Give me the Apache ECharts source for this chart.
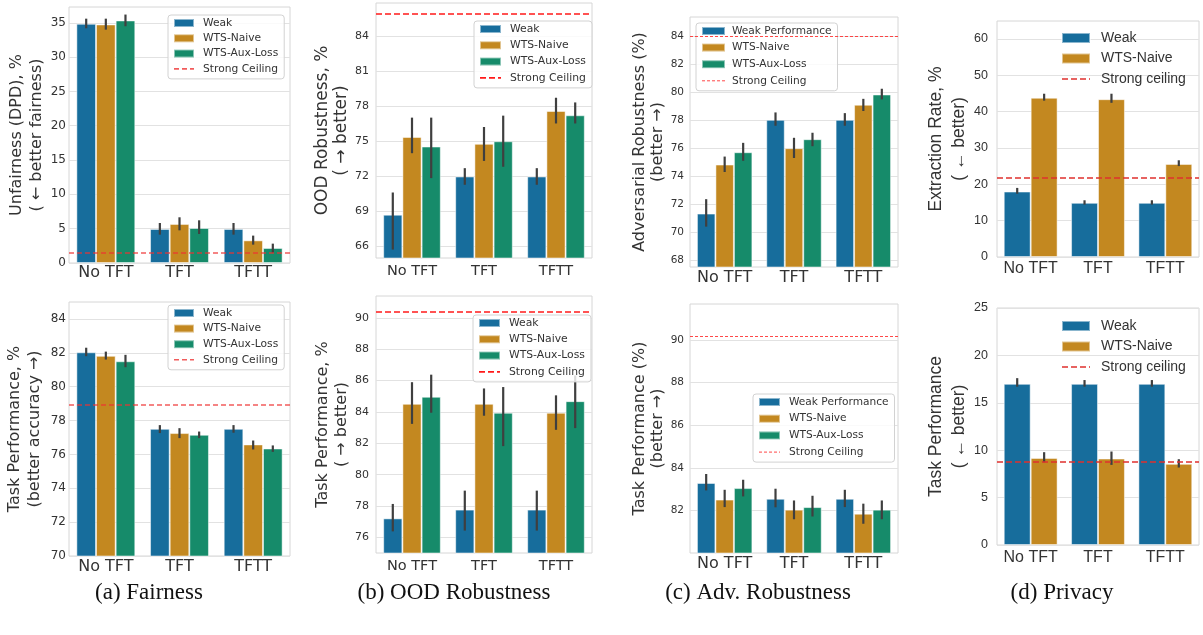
<!DOCTYPE html>
<html><head><meta charset="utf-8">
<script src="https://cdn.jsdelivr.net/npm/echarts@6/dist/echarts.min.js"></script>
<style>html,body{margin:0;padding:0;background:#fff}#c{width:1203px;height:635px}</style>
</head><body><div id="c"></div>
<script>
const categories = ['No TFT', 'TFT', 'TFTT'];

// (a) Fairness - top: Unfairness (DPD)
const aTopTicks = [0, 5, 10, 15, 20, 25, 30, 35];
const aTopWeak = [34.86, 4.96, 4.96];
const aTopWeakLo = [34.2, 4.13, 4.13];
const aTopWeakHi = [35.6, 5.83, 5.83];
const aTopNaive = [34.76, 5.69, 3.3];
const aTopNaiveLo = [34.0, 4.76, 2.67];
const aTopNaiveHi = [35.6, 6.66, 3.99];
const aTopAux = [35.34, 5.1, 2.19];
const aTopAuxLo = [34.5, 4.23, 1.46];
const aTopAuxHi = [36.2, 6.22, 2.82];
const aTopCeiling = 1.5;

// (a) Fairness - bottom: Task performance
const aBotTicks = [70, 72, 74, 76, 78, 80, 82, 84];
const aBotWeak = [82.03, 77.51, 77.51];
const aBotWeakLo = [81.8, 77.26, 77.28];
const aBotWeakHi = [82.3, 77.73, 77.73];
const aBotNaive = [81.82, 77.26, 76.59];
const aBotNaiveLo = [81.6, 76.96, 76.29];
const aBotNaiveHi = [82.07, 77.55, 76.82];
const aBotAux = [81.5, 77.16, 76.35];
const aBotAuxLo = [81.15, 76.96, 76.15];
const aBotAuxHi = [81.88, 77.35, 76.53];
const aBotCeiling = 78.95;

// (b) OOD Robustness - top
const bTopTicks = [66, 69, 72, 75, 78, 81, 84];
const bTopWeak = [68.7, 71.97, 71.97];
const bTopWeakLo = [65.72, 71.26, 71.26];
const bTopWeakHi = [70.6, 72.68, 72.68];
const bTopNaive = [75.35, 74.76, 77.57];
const bTopNaiveLo = [73.96, 73.3, 76.5];
const bTopNaiveHi = [77.0, 76.2, 78.7];
const bTopAux = [74.53, 74.98, 77.2];
const bTopAuxLo = [71.83, 72.8, 76.5];
const bTopAuxHi = [77.0, 77.17, 78.3];
const bTopCeiling = 85.85;

// (b) OOD Robustness - bottom: Task performance
const bBotTicks = [76, 78, 80, 82, 84, 86, 88, 90];
const bBotWeak = [77.21, 77.77, 77.77];
const bBotWeakLo = [76.38, 76.43, 76.43];
const bBotWeakHi = [78.13, 78.98, 78.98];
const bBotNaive = [84.52, 84.52, 83.95];
const bBotNaiveLo = [83.24, 83.76, 82.86];
const bBotNaiveHi = [85.9, 85.5, 85.06];
const bBotAux = [84.97, 83.95, 84.69];
const bBotAuxLo = [83.95, 81.82, 82.97];
const bBotAuxHi = [86.38, 85.59, 86.33];
const bBotCeiling = 90.38;

// (c) Adversarial Robustness - top
const cTopTicks = [68, 70, 72, 74, 76, 78, 80, 82, 84];
const cTopWeak = [71.33, 78.02, 78.02];
const cTopWeakLo = [70.4, 77.6, 77.6];
const cTopWeakHi = [72.36, 78.55, 78.5];
const cTopNaive = [74.83, 76.0, 79.1];
const cTopNaiveLo = [74.3, 75.3, 78.65];
const cTopNaiveHi = [75.4, 76.74, 79.52];
const cTopAux = [75.71, 76.64, 79.83];
const cTopAuxLo = [75.1, 76.14, 79.48];
const cTopAuxHi = [76.38, 77.1, 80.24];
const cTopCeiling = 84.0;

// (c) Adversarial Robustness - bottom: Task performance
const cBotTicks = [82, 84, 86, 88, 90];
const cBotWeak = [83.3, 82.56, 82.56];
const cBotWeakLo = [82.95, 82.16, 82.17];
const cBotWeakHi = [83.72, 83.03, 82.98];
const cBotNaive = [82.52, 82.05, 81.86];
const cBotNaiveLo = [82.17, 81.6, 81.39];
const cBotNaiveHi = [82.98, 82.48, 82.33];
const cBotAux = [83.06, 82.17, 82.05];
const cBotAuxLo = [82.67, 81.73, 81.6];
const cBotAuxHi = [83.45, 82.7, 82.48];
const cBotCeiling = 90.16;

// (d) Privacy - top: Extraction rate
const dTopTicks = [0, 10, 20, 30, 40, 50, 60];
const dTopWeak = [18.0, 14.9, 14.9];
const dTopWeakLo = [17.4, 14.4, 14.4];
const dTopWeakHi = [19.0, 15.6, 15.6];
const dTopNaive = [43.8, 43.4, 25.6];
const dTopNaiveLo = [43.0, 42.4, 25.0];
const dTopNaiveHi = [44.9, 44.9, 26.6];
const dTopCeiling = 21.7;

// (d) Privacy - bottom: Task performance
const dBotTicks = [0, 5, 10, 15, 20, 25];
const dBotWeak = [17.0, 17.0, 17.0];
const dBotWeakLo = [16.7, 16.7, 16.7];
const dBotWeakHi = [17.6, 17.4, 17.4];
const dBotNaive = [9.19, 9.12, 8.56];
const dBotNaiveLo = [8.73, 8.45, 8.17];
const dBotNaiveHi = [9.79, 9.86, 9.05];
const dBotCeiling = 8.77;

const captions = ['(a) Fairness', '(b) OOD Robustness', '(c) Adv. Robustness', '(d) Privacy'];

// ---------- styling / layout ----------
const DV = 'DejaVu Sans', LS = 'Liberation Sans';
const C_WEAK = '#176d9c', C_NAIVE = '#c38820', C_AUX = '#168b6a';
const TXT = '#333';

function s3(names, w, wl, wh, n, nl, nh, a, al, ah) {
  return [
    { name: names[0], color: C_WEAK, v: w, lo: wl, hi: wh },
    { name: names[1], color: C_NAIVE, v: n, lo: nl, hi: nh },
    { name: names[2], color: C_AUX, v: a, lo: al, hi: ah }
  ];
}
const N3 = ['Weak', 'WTS-Naive', 'WTS-Aux-Loss'];
const N3c = ['Weak Performance', 'WTS-Naive', 'WTS-Aux-Loss'];

const panels = [
  { grid: { left: 69, top: 7, width: 221, height: 256 }, min: 0, max: 37.3, ticks: aTopTicks,
    name: 'Unfairness (DPD), %\n( \u2190 better fairness)', nameGap: 22, nameFont: 16, nameLH: 20,
    font: DV, yFont: 12, yMargin: 3, xFont: 16, xMargin: 2,
    series: s3(N3, aTopWeak, aTopWeakLo, aTopWeakHi, aTopNaive, aTopNaiveLo, aTopNaiveHi, aTopAux, aTopAuxLo, aTopAuxHi),
    ceil: { name: 'Strong Ceiling', value: aTopCeiling, color: 'rgba(238,50,50,0.8)', width: 1.6, dash: [5, 3] },
    legend: { left: 168, top: 15, iw: 20, ih: 8, fs: 10.7, gap: 3.3, boxed: true, tp: 4 } },
  { grid: { left: 69, top: 302, width: 221, height: 254 }, min: 70, max: 85, ticks: aBotTicks,
    name: 'Task Performance, %\n(better accuracy \u2192)', nameGap: 24, nameFont: 16, nameLH: 20,
    font: DV, yFont: 12, yMargin: 3, xFont: 16, xMargin: 3,
    series: s3(N3, aBotWeak, aBotWeakLo, aBotWeakHi, aBotNaive, aBotNaiveLo, aBotNaiveHi, aBotAux, aBotAuxLo, aBotAuxHi),
    ceil: { name: 'Strong Ceiling', value: aBotCeiling, color: 'rgba(238,50,50,0.8)', width: 1.6, dash: [5, 3] },
    legend: { left: 168, top: 305, iw: 20, ih: 8, fs: 10.7, gap: 3.6, boxed: true, tp: 4 } },
  { grid: { left: 376, top: 3, width: 216, height: 255 }, min: 65, max: 86.8, ticks: bTopTicks,
    name: 'OOD Robustness, %\n( \u2192 better)', nameGap: 22, nameFont: 17, nameLH: 19,
    font: DV, yFont: 11, yMargin: 7, xFont: 14.5, xMargin: 6,
    series: s3(N3, bTopWeak, bTopWeakLo, bTopWeakHi, bTopNaive, bTopNaiveLo, bTopNaiveHi, bTopAux, bTopAuxLo, bTopAuxHi),
    ceil: { name: 'Strong Ceiling', value: bTopCeiling, color: '#ff1a1a', width: 1.6, dash: [6, 3] },
    legend: { left: 474, top: 21, iw: 21, ih: 8, fs: 10.8, gap: 4.3, boxed: true, tp: 4 } },
  { grid: { left: 376, top: 296, width: 216, height: 257 }, min: 75, max: 91.4, ticks: bBotTicks,
    name: 'Task Performance, %\n( \u2192 better)', nameGap: 22, nameFont: 16, nameLH: 19,
    font: DV, yFont: 11, yMargin: 7, xFont: 14.5, xMargin: 6,
    series: s3(N3, bBotWeak, bBotWeakLo, bBotWeakHi, bBotNaive, bBotNaiveLo, bBotNaiveHi, bBotAux, bBotAuxLo, bBotAuxHi),
    ceil: { name: 'Strong Ceiling', value: bBotCeiling, color: '#ff1a1a', width: 1.6, dash: [6, 3] },
    legend: { left: 473, top: 315, iw: 21, ih: 8, fs: 10.8, gap: 4.3, boxed: true, tp: 4 } },
  { grid: { left: 690, top: 17, width: 208, height: 250 }, min: 67.52, max: 85.36, ticks: cTopTicks,
    name: 'Adversarial Robustness (%)\n(better \u2192)', nameGap: 23, nameFont: 16, nameLH: 18,
    font: DV, yFont: 10.5, yMargin: 6, xFont: 16, xMargin: 3,
    series: s3(N3c, cTopWeak, cTopWeakLo, cTopWeakHi, cTopNaive, cTopNaiveLo, cTopNaiveHi, cTopAux, cTopAuxLo, cTopAuxHi),
    ceil: { name: 'Strong Ceiling', value: cTopCeiling, color: 'rgba(255,40,40,0.85)', width: 1, dash: [3, 2] },
    legend: { left: 696, top: 23, iw: 23, ih: 8, fs: 10.6, gap: 4.6, boxed: true, tp: 2 } },
  { grid: { left: 690, top: 304, width: 208, height: 249 }, min: 80.02, max: 91.68, ticks: cBotTicks,
    name: 'Task Performance (%)\n(better \u2192)', nameGap: 23, nameFont: 16, nameLH: 18,
    font: DV, yFont: 10.5, yMargin: 6, xFont: 16, xMargin: 3,
    series: s3(N3c, cBotWeak, cBotWeakLo, cBotWeakHi, cBotNaive, cBotNaiveLo, cBotNaiveHi, cBotAux, cBotAuxLo, cBotAuxHi),
    ceil: { name: 'Strong Ceiling', value: cBotCeiling, color: 'rgba(255,40,40,0.85)', width: 1, dash: [3, 2] },
    legend: { left: 753, top: 394, iw: 21, ih: 8, fs: 10.6, gap: 4.7, boxed: true, tp: 4 } },
  { grid: { left: 997, top: 21, width: 202, height: 236 }, min: 0, max: 64.9, ticks: dTopTicks,
    name: 'Extraction Rate, %\n( \u2190 better)', nameGap: 25, nameFont: 17.5, nameLH: 23,
    font: LS, yFont: 12.5, yMargin: 9, xFont: 16, xMargin: 4,
    series: [
      { name: 'Weak', color: C_WEAK, v: dTopWeak, lo: dTopWeakLo, hi: dTopWeakHi },
      { name: 'WTS-Naive', color: C_NAIVE, v: dTopNaive, lo: dTopNaiveLo, hi: dTopNaiveHi }
    ],
    ceil: { name: 'Strong ceiling', value: dTopCeiling, color: '#e0302e', width: 1.6, dash: [6, 3] },
    legend: { left: 1061, top: 29.5, iw: 28, ih: 10, fs: 14, gap: 3.5, boxed: false, tp: 6 } },
  { grid: { left: 997, top: 308, width: 202, height: 237 }, min: 0, max: 25, ticks: dBotTicks,
    name: 'Task Performance\n( \u2190 better)', nameGap: 25, nameFont: 17.5, nameLH: 23,
    font: LS, yFont: 12.5, yMargin: 9, xFont: 16, xMargin: 5,
    series: [
      { name: 'Weak', color: C_WEAK, v: dBotWeak, lo: dBotWeakLo, hi: dBotWeakHi },
      { name: 'WTS-Naive', color: C_NAIVE, v: dBotNaive, lo: dBotNaiveLo, hi: dBotNaiveHi }
    ],
    ceil: { name: 'Strong ceiling', value: dBotCeiling, color: '#e0302e', width: 1.6, dash: [6, 3] },
    legend: { left: 1061, top: 317.5, iw: 28, ih: 10, fs: 14, gap: 3.5, boxed: false, tp: 6 } }
];

function errRender(nBars) {
  return function (params, api) {
    const c = api.value(0), k = api.value(1);
    const pLo = api.coord([c, api.value(2)]);
    const pHi = api.coord([c, api.value(3)]);
    const band = api.size([1, 0])[0];
    const bw = band * 0.8 / nBars;
    const x = pLo[0] + (k - (nBars - 1) / 2) * bw;
    return { type: 'line', shape: { x1: x, y1: pLo[1], x2: x, y2: pHi[1] },
             style: { stroke: '#3f3f3f', lineWidth: 2.2 } };
  };
}

const grid = [], xAxis = [], yAxis = [], series = [], legend = [];
panels.forEach(function (p, i) {
  grid.push(Object.assign({ show: true, borderColor: '#d6d6d6', borderWidth: 1, backgroundColor: 'transparent' }, p.grid));
  xAxis.push({ type: 'category', gridIndex: i, data: categories,
    axisLine: { show: false }, axisTick: { show: false }, splitLine: { show: false },
    axisLabel: { interval: 0, hideOverlap: false, fontFamily: p.font, fontSize: p.xFont, color: TXT, margin: p.xMargin } });
  yAxis.push({ type: 'value', gridIndex: i, min: p.min, max: p.max,
    axisLine: { show: false },
    axisTick: { show: false, customValues: p.ticks },
    axisLabel: { customValues: p.ticks, fontFamily: p.font, fontSize: p.yFont, color: TXT, margin: p.yMargin },
    splitLine: { show: true, lineStyle: { color: '#e2e2e2', width: 1 } },
    name: p.name, nameLocation: 'middle', nameRotate: 90, nameGap: p.nameGap,
    nameTextStyle: { fontFamily: p.font, fontSize: p.nameFont, lineHeight: p.nameLH, color: TXT } });
  const nb = p.series.length;
  const errData = [];
  p.series.forEach(function (s, k) {
    series.push({ type: 'bar', name: s.name, xAxisIndex: i, yAxisIndex: i, data: s.v,
      barGap: '0%', barCategoryGap: '20%', silent: true,
      itemStyle: { color: s.color, borderColor: 'rgba(255,255,255,0.5)', borderWidth: 1 } });
    s.v.forEach(function (_, c) { errData.push([c, k, s.lo[c], s.hi[c]]); });
  });
  series.push({ type: 'custom', xAxisIndex: i, yAxisIndex: i, renderItem: errRender(nb),
    data: errData, encode: { x: 0, y: [2, 3] }, z: 3, silent: true });
  series.push({ type: 'line', name: p.ceil.name, xAxisIndex: i, yAxisIndex: i, data: [],
    symbol: 'none', color: p.ceil.color,
    lineStyle: { color: p.ceil.color, width: p.ceil.width, type: p.ceil.dash },
    markLine: { symbol: 'none', silent: true, label: { show: false }, animation: false,
      lineStyle: { color: p.ceil.color, width: p.ceil.width, type: p.ceil.dash },
      data: [{ yAxis: p.ceil.value }] } });
  const L = p.legend;
  const items = p.series.map(function (s) { return { name: s.name, icon: 'rect' }; });
  items.push({ name: p.ceil.name,
    itemStyle: { opacity: 0, borderWidth: 0 },
    lineStyle: { color: p.ceil.color, width: p.ceil.width, type: p.ceil.dash, opacity: 1 } });
  legend.push({ orient: 'vertical', left: L.left, top: L.top, data: items,
    itemWidth: L.iw, itemHeight: L.ih, itemGap: L.gap, align: 'left',
    padding: L.boxed ? [2, 6, 4, 5] : 0,
    backgroundColor: L.boxed ? 'rgba(255,255,255,0.82)' : 'transparent',
    borderColor: L.boxed ? '#d2d2d2' : 'transparent', borderWidth: L.boxed ? 1 : 0, borderRadius: 3,
    selectedMode: false,
    textStyle: { fontFamily: p.font, fontSize: L.fs, color: TXT, lineHeight: L.boxed ? 12 : 17, padding: [0, 0, 0, L.tp] } });
});

const capX = [149, 454, 758, 1062];
const graphic = captions.map(function (t, i) {
  return { type: 'text', x: capX[i], y: 593, silent: true,
    style: { text: t, align: 'center', verticalAlign: 'middle', fontFamily: 'Liberation Serif', fontSize: 23, fill: '#111' } };
});

const chart = echarts.init(document.getElementById('c'), null, { renderer: 'canvas' });
chart.setOption({ animation: false, backgroundColor: '#fff', grid: grid, xAxis: xAxis, yAxis: yAxis,
  series: series, legend: legend, graphic: graphic });
</script></body></html>
